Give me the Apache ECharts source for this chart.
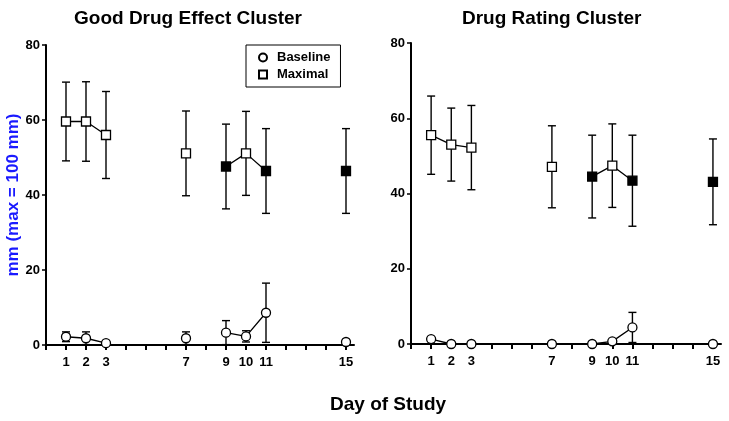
<!DOCTYPE html>
<html>
<head>
<meta charset="utf-8">
<script src="https://cdn.jsdelivr.net/npm/echarts@6/dist/echarts.min.js"></script>
<style>
html,body{margin:0;padding:0;background:#fff;}
#chart{width:729px;height:421px;}
</style>
</head>
<body>
<div id="chart"></div>
<script>
// ---- data ----
const days = [1, 2, 3, 7, 9, 10, 11, 15];
const dayTickLabels = [1, 2, 3, 7, 9, 10, 11, 15];
const yTicks = [0, 20, 40, 60, 80];
const joinedToPrevious = [false, true, true, false, false, true, true, false];
const filledMaximal = [false, false, false, false, true, false, true, true];

const goodBaseline = [2.2, 1.8, 0.5, 1.8, 3.3, 2.3, 8.6, 0.8];
const goodBaselineErr = [1.3, 1.7, 0, 1.7, 3.2, 1.5, 7.9, 0];
const goodMaximal = [59.6, 59.6, 56.0, 51.1, 47.6, 51.1, 46.4, 46.4];
const goodMaximalErr = [10.5, 10.6, 11.6, 11.3, 11.3, 11.2, 11.3, 11.3];

const ratingBaseline = [1.3, 0, 0, 0, 0, 0.7, 4.4, 0];
const ratingBaselineErr = [0, 0, 0, 0, 0, 0, 4.0, 0];
const ratingMaximal = [55.5, 53.0, 52.2, 47.1, 44.5, 47.4, 43.4, 43.1];
const ratingMaximalErr = [10.4, 9.7, 11.2, 10.9, 11.0, 11.1, 12.1, 11.4];

const titles = ['Good Drug Effect Cluster', 'Drug Rating Cluster'];
const yAxisTitle = 'mm (max = 100 mm)';
const xAxisTitle = 'Day of Study';
const legendNames = ['Baseline', 'Maximal'];

// ---- build ----
const FONT = '"Liberation Sans", Arial, Helvetica, sans-serif';

function errData(vals, errs) {
  const out = [];
  days.forEach((d, i) => { if (errs[i] > 0) out.push([d, vals[i] - errs[i], vals[i] + errs[i]]); });
  return out;
}
function lineData(vals) {
  const out = [];
  days.forEach((d, i) => {
    const joinedNext = i + 1 < days.length && joinedToPrevious[i + 1];
    const joined = joinedToPrevious[i] || joinedNext;
    out.push([d, joined ? vals[i] : '-']);
  });
  return out;
}
function markerData(vals, filled) {
  return days.map((d, i) => ({
    value: [d, vals[i]],
    itemStyle: { color: filled && filled[i] ? '#000' : '#fff' }
  }));
}
function errSeries(idx, vals, errs) {
  return {
    type: 'custom', xAxisIndex: idx, yAxisIndex: idx, z: 1, silent: true,
    data: errData(vals, errs),
    renderItem: function (params, api) {
      const x = api.value(0);
      const lo = api.coord([x, api.value(1)]);
      const hi = api.coord([x, api.value(2)]);
      const w = 4;
      const st = { stroke: '#000', lineWidth: 1.4 };
      return {
        type: 'group', children: [
          { type: 'line', shape: { x1: hi[0], y1: hi[1], x2: lo[0], y2: lo[1] }, style: st },
          { type: 'line', shape: { x1: hi[0] - w, y1: hi[1], x2: hi[0] + w, y2: hi[1] }, style: st },
          { type: 'line', shape: { x1: lo[0] - w, y1: lo[1], x2: lo[0] + w, y2: lo[1] }, style: st }
        ]
      };
    }
  };
}
function lineSeries(idx, vals) {
  return {
    type: 'line', xAxisIndex: idx, yAxisIndex: idx, z: 2, silent: true,
    symbol: 'none', connectNulls: false,
    lineStyle: { color: '#000', width: 1.3 },
    data: lineData(vals)
  };
}
function markerSeries(idx, name, symbol, size, vals, filled) {
  return {
    type: 'scatter', name: name, xAxisIndex: idx, yAxisIndex: idx, z: 3,
    symbol: symbol, symbolSize: size,
    itemStyle: { color: '#fff', borderColor: '#000', borderWidth: 1.3, opacity: 1 },
    data: markerData(vals, filled)
  };
}

const grids = [
  { left: 46, top: 45, width: 308, height: 300 },
  { left: 411, top: 43, width: 310, height: 301 }
];

function xAxis(idx) {
  return {
    type: 'value', gridIndex: idx, min: 0, max: 15.4, interval: 1,
    axisLine: { show: true, lineStyle: { color: '#000', width: 2 } },
    axisTick: { show: true, length: 5, lineStyle: { color: '#000', width: 2 } },
    splitLine: { show: false },
    axisLabel: {
      color: '#000', fontFamily: FONT, fontWeight: 'bold', fontSize: 13, margin: 11,
      showMaxLabel: false,
      formatter: v => dayTickLabels.indexOf(v) >= 0 ? String(v) : ''
    }
  };
}
function yAxis(idx) {
  const ax = {
    type: 'value', gridIndex: idx, min: 0, max: 80, interval: 20,
    axisLine: { show: true, lineStyle: { color: '#000', width: 2 } },
    axisTick: { show: true, length: 4, lineStyle: { color: '#000', width: 1.5 } },
    splitLine: { show: false },
    axisLabel: {
      color: '#000', fontFamily: FONT, fontWeight: 'bold', fontSize: 13, margin: 6,
      formatter: v => yTicks.indexOf(v) >= 0 ? String(v) : ''
    }
  };
  if (idx === 0) {
    ax.name = yAxisTitle;
    ax.nameLocation = 'middle';
    ax.nameRotate = 90;
    ax.nameGap = 22;
    ax.nameTextStyle = { color: '#1a1aff', fontFamily: FONT, fontWeight: 'bold', fontSize: 17 };
  }
  return ax;
}

const option = {
  backgroundColor: '#fff',
  animation: false,
  grid: grids,
  xAxis: [xAxis(0), xAxis(1)],
  yAxis: [yAxis(0), yAxis(1)],
  legend: {
    left: 246, top: 45, orient: 'vertical',
    borderColor: '#000', borderWidth: 1, borderRadius: 0,
    padding: [6, 10, 6, 12], itemGap: 4,
    itemWidth: 8, itemHeight: 8,
    textStyle: { color: '#000', fontFamily: FONT, fontWeight: 'bold', fontSize: 13, padding: [0, 0, 0, 5] },
    data: [{ name: legendNames[0], icon: 'circle' }, { name: legendNames[1], icon: 'rect' }],
    selectedMode: false
  },
  graphic: [
    { type: 'text', left: 187 - 113, top: 9, style: { text: titles[0], font: 'bold 19px ' + FONT, fill: '#000' } },
    { type: 'text', left: 551 - 89, top: 9, style: { text: titles[1], font: 'bold 19px ' + FONT, fill: '#000' } },
    { type: 'text', left: 330, top: 395, style: { text: xAxisTitle, font: 'bold 19px ' + FONT, fill: '#000' } }
  ],
  series: [
    errSeries(0, goodMaximal, goodMaximalErr),
    errSeries(0, goodBaseline, goodBaselineErr),
    lineSeries(0, goodMaximal),
    lineSeries(0, goodBaseline),
    markerSeries(0, legendNames[1], 'rect', 9, goodMaximal, filledMaximal),
    markerSeries(0, legendNames[0], 'circle', 9, goodBaseline, null),
    errSeries(1, ratingMaximal, ratingMaximalErr),
    errSeries(1, ratingBaseline, ratingBaselineErr),
    lineSeries(1, ratingMaximal),
    lineSeries(1, ratingBaseline),
    markerSeries(1, legendNames[1], 'rect', 9, ratingMaximal, filledMaximal),
    markerSeries(1, legendNames[0], 'circle', 9, ratingBaseline, null)
  ]
};

const chart = echarts.init(document.getElementById('chart'), null, { renderer: 'canvas' });
chart.setOption(option);
</script>
</body>
</html>
